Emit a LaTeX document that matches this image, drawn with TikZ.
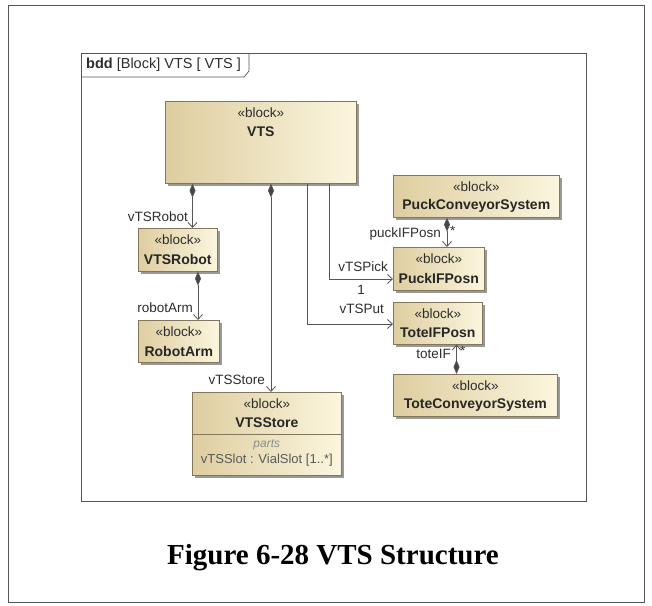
\documentclass[tikz,border=0pt]{standalone}
\usepackage{fontspec}
\setmainfont{Liberation Serif}
\newfontfamily\arialf{Liberation Sans}
\usetikzlibrary{arrows.meta,shadows}
\definecolor{tanL}{RGB}{222,205,160}
\definecolor{tanR}{RGB}{251,246,222}
\definecolor{bordc}{RGB}{130,118,92}
\definecolor{linec}{RGB}{85,85,85}
\definecolor{labc}{RGB}{45,45,45}
\definecolor{diamc}{RGB}{70,70,70}
\begin{document}
\begin{tikzpicture}[x=1pt,y=-1pt,
  blk/.style={draw=bordc, line width=0.6pt, left color=tanL, right color=tanR,
    drop shadow={shadow xshift=2.5pt, shadow yshift=-2.5pt, opacity=0.4, fill=black},
    inner sep=0pt, anchor=north west},
  stereo/.style={font=\arialf\fontsize{13.5}{15}\selectfont, text=labc, inner sep=0pt},
  bname/.style={font=\arialf\bfseries\fontsize{14}{16}\selectfont, text=black!85, inner sep=0pt},
  lab/.style={font=\arialf\fontsize{13.5}{15}\selectfont, text=labc, inner sep=0pt},
  comp/.style={draw=linec, line width=0.8pt,
    {Diamond[length=14pt,width=6pt,fill=diamc]}-{Straight Barb[length=5pt,width=9pt]}},
  assoc/.style={draw=linec, line width=0.8pt, -{Straight Barb[length=5pt,width=9pt]}}
]
\useasboundingbox (0,0) rectangle (652,605);
% outer border
\draw[linec, line width=0.6pt] (8.5,5) rectangle (644,602);
% frame
\draw[linec, line width=0.7pt] (81,53) rectangle (586,501);
\draw[linec, line width=0.7pt] (81,77) -- (244,77) -- (249,71) -- (249,53);
\node[anchor=west, inner sep=0pt, text=labc] (ftitle) at (86,65)
  {\arialf\fontsize{14.5}{16}\selectfont\textbf{bdd} [Block] VTS [ VTS ]};

% blocks
\node[blk, minimum width=191pt, minimum height=82pt] (VTS) at (165,101) {};
\node[blk, minimum width=79pt, minimum height=43pt] (VR) at (138,228) {};
\node[blk, minimum width=81pt, minimum height=42pt] (RA) at (138,320) {};
\node[blk, minimum width=149pt, minimum height=83pt] (VS) at (192,392) {};
\node[blk, minimum width=166pt, minimum height=42pt] (PCS) at (393,175) {};
\node[blk, minimum width=91pt, minimum height=43pt] (PIF) at (393,247) {};
\node[blk, minimum width=89pt, minimum height=42pt] (TIF) at (393,302) {};
\node[blk, minimum width=164pt, minimum height=42pt] (TCS) at (393,374) {};

% block texts
\foreach \b/\n in {VTS/VTS, VR/VTSRobot, RA/RobotArm, VS/VTSStore, PCS/PuckConveyorSystem, PIF/PuckIFPosn, TIF/ToteIFPosn, TCS/ToteConveyorSystem}{
  \node[stereo] (\b-st) at ([yshift=-12pt]\b.north) {«block»};
  \node[bname] (\b-nm) at ([yshift=-31pt]\b.north) {\n};
}
% VTSStore compartment
\draw[draw=bordc, line width=0.6pt] (VS.west |- 0,434) -- (VS.east |- 0,434);
\node[font=\arialf\itshape\fontsize{12}{14}\selectfont, text=black!45, inner sep=0pt] (VSparts) at (VS.north |- 0,445) {parts};
\node[font=\arialf\fontsize{13}{15}\selectfont, text=black!65, inner sep=0pt] (VSslot) at (VS.north |- 0,460) {vTSSlot : VialSlot [1..*]};

% connector x positions
\coordinate (x1) at (192.5,0);
\coordinate (x2) at (198,0);
\coordinate (x3) at (271,0);
\coordinate (x4) at (307,0);
\coordinate (x5) at (329,0);
\coordinate (x6) at (447,0);
\coordinate (x7) at (456.5,0);
\coordinate (yPick) at (0,279);
\coordinate (yPut) at (0,324);

\draw[comp] (x1 |- VTS.south) -- (x1 |- VR.north);
\draw[comp] (x2 |- VR.south) -- (x2 |- RA.north);
\draw[comp] (x3 |- VTS.south) -- (x3 |- VS.north);
\draw[assoc] (x5 |- VTS.south) -- (x5 |- yPick) -- (PIF.west |- yPick);
\draw[assoc] (x4 |- VTS.south) -- (x4 |- yPut) -- (TIF.west |- yPut);
\draw[comp] (x6 |- PCS.south) -- (x6 |- PIF.north);
\draw[comp] (x7 |- TCS.north) -- (x7 |- TIF.south);

% role labels
\node[lab, anchor=east] (l1) at (188,217) {vTSRobot};
\node[lab, anchor=east] (l2) at (193,308) {robotArm};
\node[lab, anchor=east] (l3) at (265,380) {vTSStore};
\node[lab, anchor=east] (l4) at (388,267) {vTSPick};
\node[lab] (l4m) at (361,290) {1};
\node[lab, anchor=east] (l5) at (384,309) {vTSPut};
\node[lab, anchor=east] (l6) at (441,234) {puckIFPosn};
\node[lab, anchor=west] (l6m) at (450,231) {*};
\node[lab, anchor=east] (l7) at (451,354) {toteIF};
\node[lab, anchor=west] (l7m) at (460,351) {*};

% caption
\node[font=\bfseries\fontsize{29}{32}\selectfont, inner sep=0pt] (cap) at (333,558) {Figure 6-28 VTS Structure};
\end{tikzpicture}
\end{document}
